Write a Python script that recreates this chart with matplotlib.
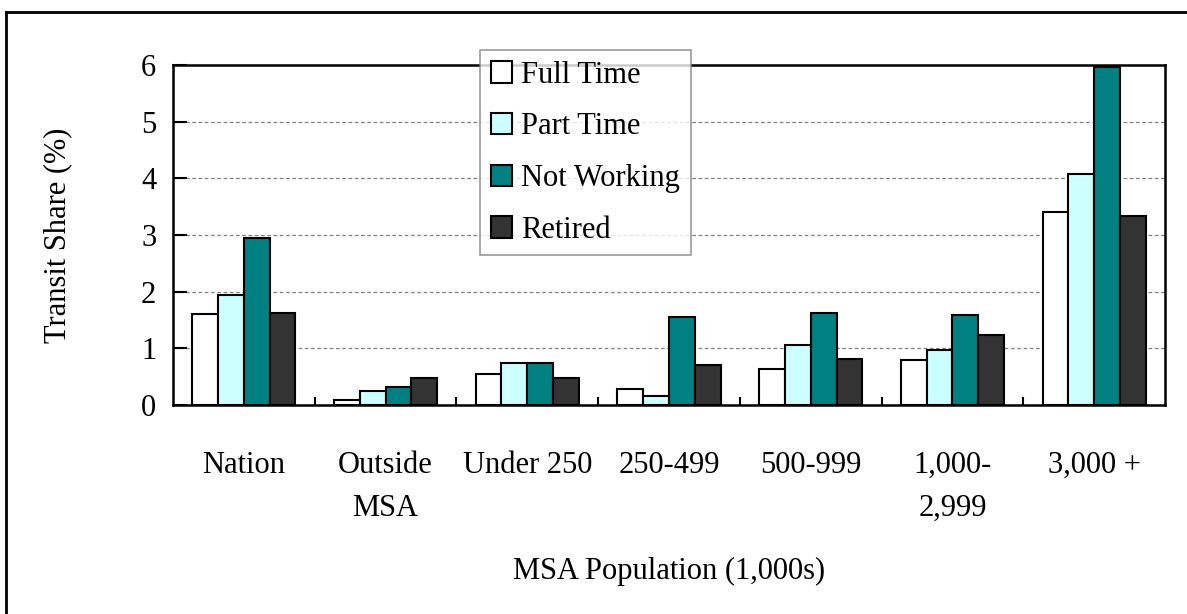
import matplotlib
matplotlib.use("Agg")
import matplotlib.pyplot as plt
import numpy as np
from matplotlib.lines import Line2D

plt.rcParams['font.family'] = ['Liberation Serif', 'DejaVu Serif']

categories = ["Nation", "Outside\nMSA", "Under 250", "250-499", "500-999", "1,000-\n2,999", "3,000 +"]
series_names = ["Full Time", "Part Time", "Not Working", "Retired"]
full_time   = [1.60, 0.09, 0.55, 0.28, 0.63, 0.79, 3.40]
part_time   = [1.94, 0.25, 0.74, 0.16, 1.06, 0.97, 4.07]
not_working = [2.94, 0.31, 0.74, 1.55, 1.62, 1.59, 5.96]
retired     = [1.63, 0.47, 0.47, 0.70, 0.82, 1.24, 3.33]
y_ticks = [0, 1, 2, 3, 4, 5, 6]

colors = ["#FFFFFF", "#CCFFFF", "#008080", "#333333"]
FS = 22

fig = plt.figure(figsize=(11.87, 6.14), dpi=100)
W, H = 1187, 614
ax = fig.add_axes([173 / W, 1 - 405 / H, (1165 - 173) / W, (405 - 65) / H])

x = np.arange(len(categories))
bw = 0.182
series = [full_time, part_time, not_working, retired]
for i, (vals, name, c) in enumerate(zip(series, series_names, colors)):
    ax.bar(x + (i - 1.5) * bw, vals, width=bw, color=c, edgecolor="black",
           linewidth=1.5, label=name, zorder=3)

ax.set_xlim(-0.5, len(categories) - 0.5)
ax.set_ylim(0, 6)
ax.set_yticks(y_ticks)
ax.set_yticklabels([str(v) for v in y_ticks], fontsize=FS)
ax.set_xticks(x)
ax.set_xticklabels(categories, fontsize=FS, linespacing=1.65)
ax.set_xticks(np.arange(len(categories) - 1) + 0.5, minor=True)
ax.tick_params(axis='x', which='major', length=0, pad=33)
ax.tick_params(axis='x', which='minor', direction='in', length=6, width=1.5)
ax.tick_params(axis='y', which='major', direction='in', length=10, width=1.5, pad=12)

for yv in y_ticks[1:-1]:
    ax.axhline(yv, color="#808080", linestyle=(0, (3, 2)), linewidth=0.9, zorder=1)

for s in ax.spines.values():
    s.set_linewidth(1.8)
    s.set_color("black")

ax.set_xlabel("MSA Population (1,000s)", fontsize=FS)
ax.xaxis.set_label_coords(0.5, (405 - 557) / 340)
ax.set_ylabel("Transit Share (%)", fontsize=FS)
ax.yaxis.set_label_coords((72 - 173) / 992, 0.5)

leg = ax.legend(loc="upper left", bbox_to_anchor=(480 / W, 1 - 50 / H),
                bbox_transform=fig.transFigure, borderaxespad=0, fontsize=FS,
                frameon=True, fancybox=False, edgecolor="#808080",
                handlelength=0.7, handleheight=0.7, handletextpad=0.3,
                labelspacing=0.74, borderpad=0.35)
leg.get_frame().set_linewidth(1.2)
leg.set_zorder(10)

# outer frame
fig.add_artist(Line2D([6 / W, 6 / W], [0, 1 - 12 / H], transform=fig.transFigure,
                      color="black", linewidth=2))
fig.add_artist(Line2D([6 / W, 1], [1 - 12 / H, 1 - 12 / H], transform=fig.transFigure,
                      color="black", linewidth=2))

fig.savefig("out.png", dpi=100)
